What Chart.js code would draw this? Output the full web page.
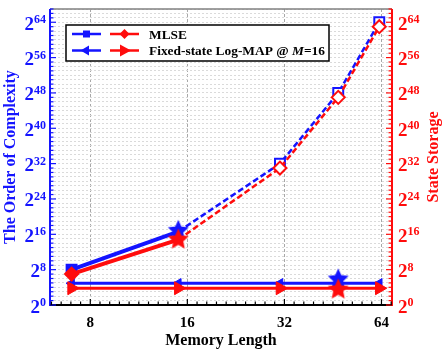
<!DOCTYPE html>
<html>
<head>
<meta charset="utf-8">
<script src="https://cdn.jsdelivr.net/npm/chart.js@4.4.1/dist/chart.umd.min.js"></script>
<style>
  html, body { margin: 0; padding: 0; background: #fff; }
  #wrap { width: 443px; height: 351px; }
</style>
</head>
<body>
<div id="wrap"><canvas id="complexityChart" width="443" height="351"></canvas></div>
<script>
// Memory length (x) and log2 of the values (y)
const memoryLength = [7, 15, 31, 47, 63];
const mlseComplexity = [8, 16.6, 32, 48, 64];
const mlseStorage = [7, 14.8, 31, 47, 63];
const fixedComplexity = [4.9, 4.9, 4.9, 4.9, 4.9];
const fixedStorage = [3.8, 3.8, 3.8, 3.8, 3.8];
// highlighted points (stars)
const starMemory = [15, 47];
const starComplexity = [16.8, 5.8];
const starStorage = [14.8, 3.5];
const xTickValues = [8, 16, 32, 64];
const yTickExponents = [0, 8, 16, 24, 32, 40, 48, 56, 64];

const BLUE = '#1414ff';
const RED = '#ff0c0c';
const FONT = "'Liberation Serif', 'Times New Roman', serif";

// filled five point star used as marker
function makeStar(color, R) {
    const c = document.createElement('canvas');
    const s = Math.ceil(R * 2 + 2);
    c.width = s;
    c.height = s;
    const g = c.getContext('2d');
    g.beginPath();
    for (let i = 0; i < 10; i++) {
        const r = i % 2 ? R * 0.48 : R;
        const a = -Math.PI / 2 + i * Math.PI / 5;
        g.lineTo(s / 2 + r * Math.cos(a), s / 2 + r * Math.sin(a));
    }
    g.closePath();
    g.fillStyle = color;
    g.fill();
    return c;
}

const starBlue = makeStar(BLUE, 11);
const starRed = makeStar(RED, 11);

function toPoints(xs, ys) {
    return xs.map((x, i) => ({ x: x, y: ys[i] }));
}

const dashedAfterFirst = {
    borderDash: c => c.p0DataIndex >= 1 ? [6, 3] : undefined,
    borderWidth: c => c.p0DataIndex >= 1 ? 2.5 : 4
};

// Axis lines, inward ticks, labels, titles and the legend box
const decorPlugin = {
    id: 'decor',
    afterDraw(chart) {
        const ctx = chart.ctx;
        const area = chart.chartArea;
        const xs = chart.scales.x;
        const ys = chart.scales.y;
        ctx.save();

        // top border
        ctx.strokeStyle = '#808080';
        ctx.lineWidth = 1.5;
        ctx.beginPath();
        ctx.moveTo(area.left, area.top);
        ctx.lineTo(area.right, area.top);
        ctx.stroke();

        // left / right / bottom axes
        ctx.lineWidth = 2;
        ctx.strokeStyle = BLUE;
        ctx.beginPath();
        ctx.moveTo(area.left, area.top);
        ctx.lineTo(area.left, area.bottom + 1);
        ctx.stroke();
        ctx.strokeStyle = RED;
        ctx.beginPath();
        ctx.moveTo(area.right, area.top);
        ctx.lineTo(area.right, area.bottom + 1);
        ctx.stroke();
        ctx.strokeStyle = '#000';
        ctx.beginPath();
        ctx.moveTo(area.left, area.bottom);
        ctx.lineTo(area.right, area.bottom);
        ctx.stroke();

        // y ticks (every power of two)
        ctx.lineWidth = 1.2;
        for (let e = 0; e <= 67; e++) {
            const y = ys.getPixelForValue(e);
            const len = e % 8 === 0 ? 6 : 3.5;
            ctx.strokeStyle = BLUE;
            ctx.beginPath();
            ctx.moveTo(area.left, y);
            ctx.lineTo(area.left + len, y);
            ctx.stroke();
            ctx.strokeStyle = RED;
            ctx.beginPath();
            ctx.moveTo(area.right, y);
            ctx.lineTo(area.right - len, y);
            ctx.stroke();
        }

        // x ticks, ten per octave
        ctx.strokeStyle = '#000';
        for (let k = 26; k <= 61; k++) {
            const x = xs.getPixelForValue(Math.pow(2, k / 10));
            const len = k % 10 === 0 ? 6 : 3.5;
            ctx.beginPath();
            ctx.moveTo(x, area.bottom);
            ctx.lineTo(x, area.bottom - len);
            ctx.stroke();
        }

        // y tick labels 2^n
        yTickExponents.forEach(e => {
            const y = ys.getPixelForValue(e);
            const exp = String(e);
            ctx.font = 'bold 12px ' + FONT;
            const ew = ctx.measureText(exp).width;
            ctx.font = 'bold 19px ' + FONT;
            const bw = ctx.measureText('2').width;

            ctx.textAlign = 'left';
            ctx.textBaseline = 'alphabetic';
            ctx.fillStyle = BLUE;
            const lx = 46 - ew - bw;
            ctx.font = 'bold 19px ' + FONT;
            ctx.fillText('2', lx, y + 7.5);
            ctx.font = 'bold 12px ' + FONT;
            ctx.fillText(exp, lx + bw, y + 1);

            ctx.fillStyle = RED;
            const rx = 398;
            ctx.font = 'bold 19px ' + FONT;
            ctx.fillText('2', rx, y + 7.5);
            ctx.font = 'bold 12px ' + FONT;
            ctx.fillText(exp, rx + bw, y + 1);
        });

        // x tick labels
        ctx.fillStyle = '#000';
        ctx.font = 'bold 15px ' + FONT;
        ctx.textAlign = 'center';
        xTickValues.forEach(v => {
            ctx.fillText(String(v), xs.getPixelForValue(v), 327);
        });

        // axis titles
        ctx.font = 'bold 16px ' + FONT;
        ctx.fillText('Memory Length', (area.left + area.right) / 2, 345);
        const midY = (area.top + area.bottom) / 2;
        ctx.save();
        ctx.translate(15, midY);
        ctx.rotate(-Math.PI / 2);
        ctx.fillStyle = BLUE;
        ctx.fillText('The Order of Complexity', 0, 0);
        ctx.restore();
        ctx.save();
        ctx.translate(438, midY);
        ctx.rotate(-Math.PI / 2);
        ctx.fillStyle = RED;
        ctx.fillText('State Storage', 0, 0);
        ctx.restore();

        // legend
        ctx.fillStyle = '#fff';
        ctx.fillRect(66, 25, 263, 36);
        ctx.strokeStyle = '#000';
        ctx.lineWidth = 1.5;
        ctx.strokeRect(66, 25, 263, 36);

        const rows = [34, 50.5];
        rows.forEach((ry, i) => {
            ctx.lineWidth = 2.5;
            ctx.strokeStyle = BLUE;
            ctx.beginPath();
            ctx.moveTo(72, ry);
            ctx.lineTo(101, ry);
            ctx.stroke();
            ctx.strokeStyle = RED;
            ctx.beginPath();
            ctx.moveTo(110, ry);
            ctx.lineTo(139, ry);
            ctx.stroke();

            ctx.fillStyle = BLUE;
            ctx.beginPath();
            if (i === 0) {
                ctx.rect(83, ry - 3.5, 7, 7);
            } else {
                ctx.moveTo(80.5, ry);
                ctx.lineTo(89, ry - 5);
                ctx.lineTo(89, ry + 5);
                ctx.closePath();
            }
            ctx.fill();
            ctx.fillStyle = RED;
            ctx.beginPath();
            if (i === 0) {
                ctx.moveTo(124.5, ry - 5);
                ctx.lineTo(129.5, ry);
                ctx.lineTo(124.5, ry + 5);
                ctx.lineTo(119.5, ry);
                ctx.closePath();
            } else {
                ctx.moveTo(131, ry);
                ctx.lineTo(120, ry - 6);
                ctx.lineTo(120, ry + 6);
                ctx.closePath();
            }
            ctx.fill();
        });

        ctx.fillStyle = '#000';
        ctx.textAlign = 'left';
        ctx.font = 'bold 13.4px ' + FONT;
        ctx.fillText('MLSE', 149, rows[0] + 4.5);
        let tx = 149;
        const part1 = 'Fixed-state Log-MAP @ ';
        ctx.fillText(part1, tx, rows[1] + 4.5);
        tx += ctx.measureText(part1).width;
        ctx.font = 'italic bold 13.4px ' + FONT;
        ctx.fillText('M', tx, rows[1] + 4.5);
        tx += ctx.measureText('M').width;
        ctx.font = 'bold 13.4px ' + FONT;
        ctx.fillText('=16', tx, rows[1] + 4.5);

        ctx.restore();
    }
};

const ctx = document.getElementById('complexityChart');

new Chart(ctx, {
    type: 'line',
    data: {
        datasets: [
            {
                label: 'Highlighted storage',
                data: toPoints(starMemory, starStorage),
                yAxisID: 'y2',
                showLine: false,
                pointStyle: starRed,
                order: 0
            },
            {
                label: 'Highlighted complexity',
                data: toPoints(starMemory, starComplexity),
                yAxisID: 'y',
                showLine: false,
                pointStyle: starBlue,
                order: 0.5
            },
            {
                label: 'MLSE complexity',
                data: toPoints(memoryLength, mlseComplexity),
                yAxisID: 'y',
                borderColor: BLUE,
                borderWidth: 4,
                segment: dashedAfterFirst,
                pointStyle: 'rect',
                pointRadius: [7, 0, 7, 7, 7],
                pointBorderWidth: 2,
                pointBorderColor: BLUE,
                pointBackgroundColor: [BLUE, BLUE, '#fff', '#fff', '#fff'],
                order: 2
            },
            {
                label: 'Fixed-state complexity',
                data: toPoints(memoryLength, fixedComplexity),
                yAxisID: 'y',
                borderColor: BLUE,
                borderWidth: 3,
                pointStyle: 'triangle',
                pointRotation: -90,
                pointRadius: [5.5, 5.5, 5.5, 0, 5.5],
                pointBorderWidth: 1,
                pointBorderColor: BLUE,
                pointBackgroundColor: BLUE,
                order: 2
            },
            {
                label: 'MLSE storage',
                data: toPoints(memoryLength, mlseStorage),
                yAxisID: 'y2',
                borderColor: RED,
                borderWidth: 4,
                segment: dashedAfterFirst,
                pointStyle: 'rectRot',
                pointRadius: [6.5, 0, 6.5, 6.5, 6.5],
                pointBorderWidth: 2,
                pointBorderColor: RED,
                pointBackgroundColor: [RED, RED, '#fff', '#fff', '#fff'],
                order: 1
            },
            {
                label: 'Fixed-state storage',
                data: toPoints(memoryLength, fixedStorage),
                yAxisID: 'y2',
                borderColor: RED,
                borderWidth: 3,
                pointStyle: 'triangle',
                pointRotation: 90,
                pointRadius: [7.5, 7.5, 7.5, 0, 7.5],
                pointBorderWidth: 1,
                pointBorderColor: RED,
                pointBackgroundColor: RED,
                order: 1
            }
        ]
    },
    options: {
        responsive: false,
        animation: false,
        events: [],
        layout: { padding: { top: 5, left: 0, right: 0, bottom: 0 } },
        plugins: {
            legend: { display: false },
            tooltip: { enabled: false }
        },
        scales: {
            x: {
                type: 'logarithmic',
                min: 6,
                max: 69,
                afterBuildTicks: scale => {
                    scale.ticks = xTickValues.map(v => ({ value: v }));
                },
                afterFit: scale => { scale.height = 46; },
                ticks: { display: false },
                grid: { color: '#a8a8a8', lineWidth: 1, drawTicks: false },
                border: { display: false, dash: [3, 2] }
            },
            y: {
                position: 'left',
                min: 0,
                max: 67,
                afterBuildTicks: scale => {
                    const t = [];
                    for (let e = 0; e <= 67; e++) t.push({ value: e });
                    scale.ticks = t;
                },
                afterFit: scale => { scale.width = 50; },
                ticks: { display: false },
                grid: { color: '#dadada', lineWidth: 1, drawTicks: false },
                border: { display: false, dash: [2, 2] }
            },
            y2: {
                position: 'right',
                min: 0,
                max: 67,
                afterFit: scale => { scale.width = 51; },
                ticks: { display: false },
                grid: { display: false },
                border: { display: false }
            }
        }
    },
    plugins: [decorPlugin]
});
</script>
</body>
</html>
